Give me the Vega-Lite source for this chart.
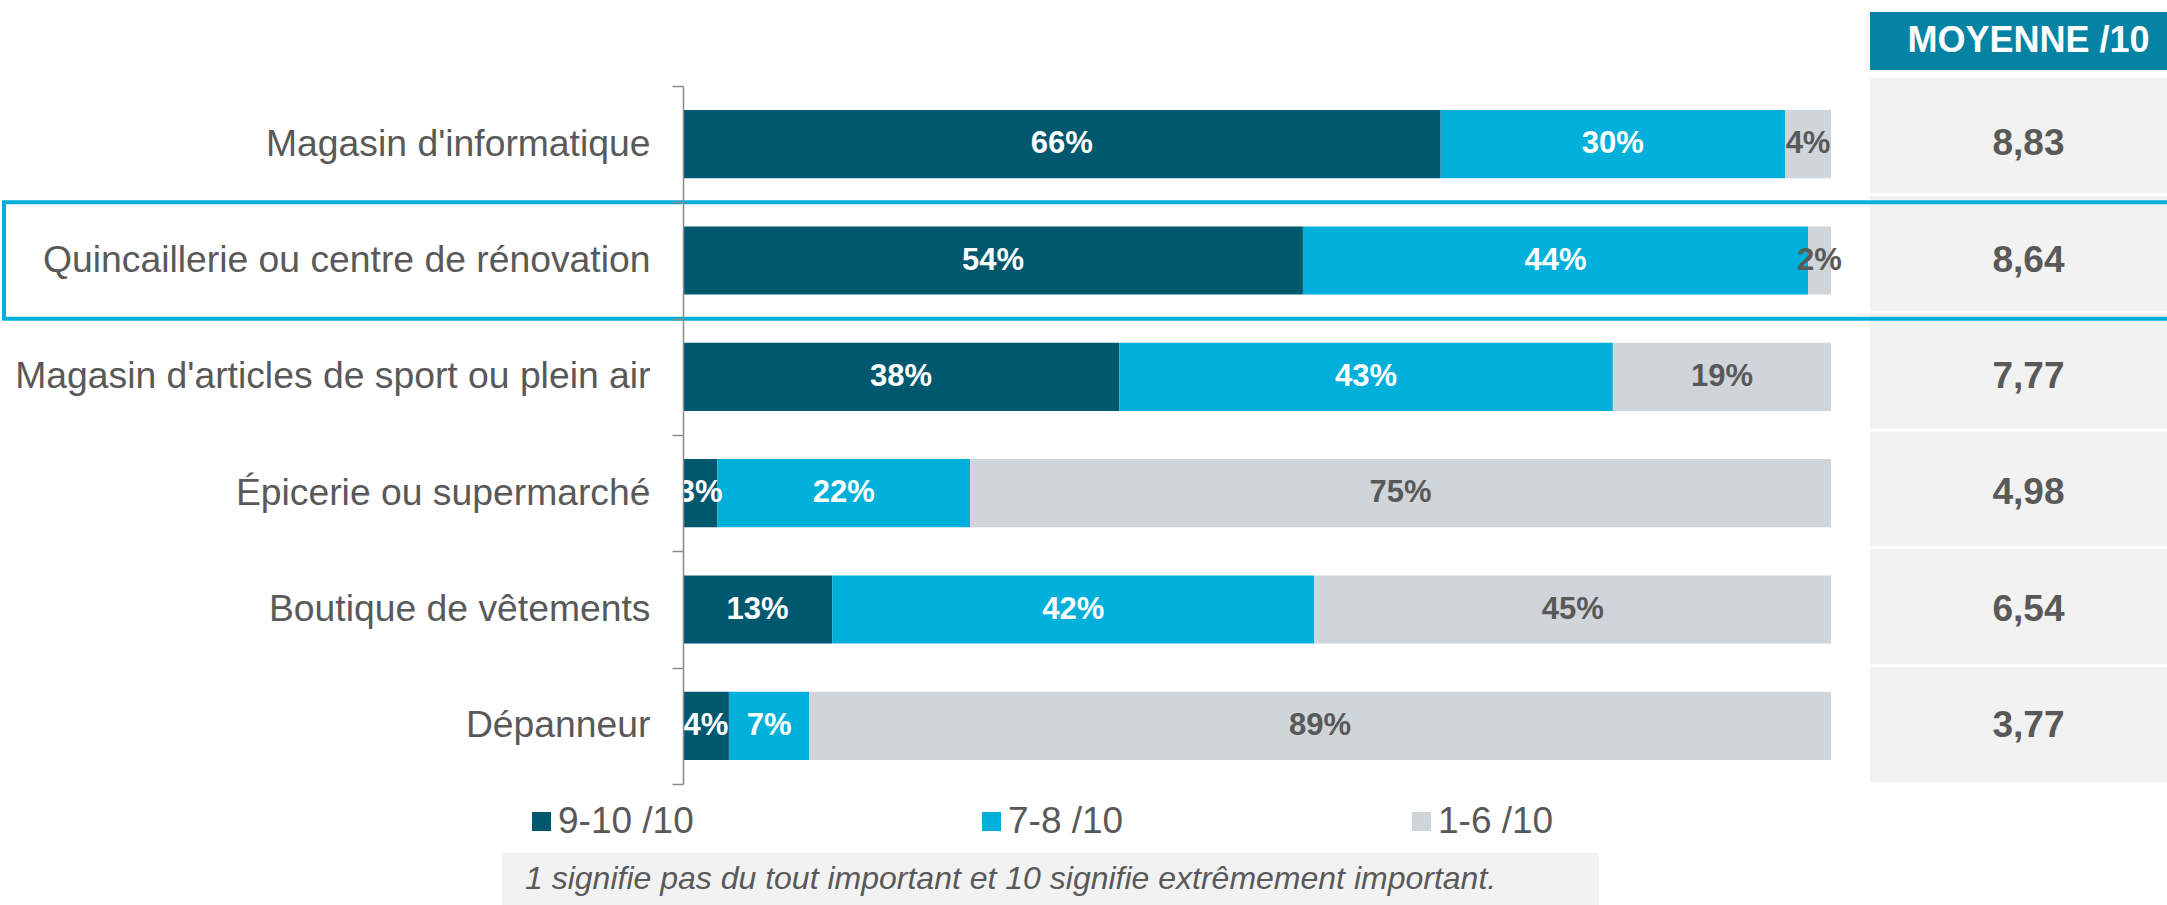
{
  "$schema": "https://vega.github.io/schema/vega-lite/v6.json",
  "autosize": "none",
  "width": 1484,
  "height": 905,
  "padding": {"left": 683, "top": 0, "right": 0, "bottom": 0},
  "background": "white",
  "config": {
    "view": {"stroke": null},
    "font": "Liberation Sans",
    "locale": {"number": {"decimal": ",", "thousands": " ", "grouping": [3], "currency": ["", " $"]}}
  },
  "datasets": {
    "bars": [
      {"cat": "Magasin d'informatique", "seg": "9-10 /10", "ord": 1, "pct": 66},
      {"cat": "Magasin d'informatique", "seg": "7-8 /10", "ord": 2, "pct": 30},
      {"cat": "Magasin d'informatique", "seg": "1-6 /10", "ord": 3, "pct": 4},
      {"cat": "Quincaillerie ou centre de rénovation", "seg": "9-10 /10", "ord": 1, "pct": 54},
      {"cat": "Quincaillerie ou centre de rénovation", "seg": "7-8 /10", "ord": 2, "pct": 44},
      {"cat": "Quincaillerie ou centre de rénovation", "seg": "1-6 /10", "ord": 3, "pct": 2},
      {"cat": "Magasin d'articles de sport ou plein air", "seg": "9-10 /10", "ord": 1, "pct": 38},
      {"cat": "Magasin d'articles de sport ou plein air", "seg": "7-8 /10", "ord": 2, "pct": 43},
      {"cat": "Magasin d'articles de sport ou plein air", "seg": "1-6 /10", "ord": 3, "pct": 19},
      {"cat": "Épicerie ou supermarché", "seg": "9-10 /10", "ord": 1, "pct": 3},
      {"cat": "Épicerie ou supermarché", "seg": "7-8 /10", "ord": 2, "pct": 22},
      {"cat": "Épicerie ou supermarché", "seg": "1-6 /10", "ord": 3, "pct": 75},
      {"cat": "Boutique de vêtements", "seg": "9-10 /10", "ord": 1, "pct": 13},
      {"cat": "Boutique de vêtements", "seg": "7-8 /10", "ord": 2, "pct": 42},
      {"cat": "Boutique de vêtements", "seg": "1-6 /10", "ord": 3, "pct": 45},
      {"cat": "Dépanneur", "seg": "9-10 /10", "ord": 1, "pct": 4},
      {"cat": "Dépanneur", "seg": "7-8 /10", "ord": 2, "pct": 7},
      {"cat": "Dépanneur", "seg": "1-6 /10", "ord": 3, "pct": 89}
    ],
    "moyennes": [
      {"cat": "Magasin d'informatique", "moyenne": 8.83},
      {"cat": "Quincaillerie ou centre de rénovation", "moyenne": 8.64},
      {"cat": "Magasin d'articles de sport ou plein air", "moyenne": 7.77},
      {"cat": "Épicerie ou supermarché", "moyenne": 4.98},
      {"cat": "Boutique de vêtements", "moyenne": 6.54},
      {"cat": "Dépanneur", "moyenne": 3.77}
    ]
  },
  "resolve": {"scale": {"x": "independent", "y": "independent", "color": "independent"}},
  "layer": [
    {
      "data": {"name": "bars"},
      "encoding": {
        "y": {
          "field": "cat", "type": "nominal", "sort": null,
          "scale": {
            "domain": ["Magasin d'informatique", "Quincaillerie ou centre de rénovation", "Magasin d'articles de sport ou plein air", "Épicerie ou supermarché", "Boutique de vêtements", "Dépanneur"],
            "range": [86, 784], "paddingInner": 0.414, "paddingOuter": 0.207
          },
          "axis": null
        },
        "x": {"field": "pct", "type": "quantitative", "stack": "zero", "scale": {"domain": [0, 100], "range": [0, 1148], "nice": false}, "axis": null},
        "order": {"field": "ord", "type": "quantitative"}
      },
      "layer": [
        {
          "mark": {"type": "bar"},
          "encoding": {
            "color": {
              "field": "seg", "type": "nominal", "sort": null,
              "scale": {"domain": ["9-10 /10", "7-8 /10", "1-6 /10"], "range": ["#00586F", "#00B0DB", "#D0D5D9"]},
              "legend": {
                "title": null, "orient": "none", "legendX": -160, "legendY": 803, "direction": "horizontal",
                "columns": 3, "gridAlign": "none", "columnPadding": 279, "symbolType": "square", "symbolSize": 361,
                "symbolStrokeWidth": 0, "labelFontSize": 37, "labelColor": "#595959", "labelOffset": -2, "padding": 0,
                "labelLimit": 0, "labelFont": "Liberation Sans"
              }
            }
          }
        },
        {
          "mark": {"type": "text", "fontSize": 31, "fontWeight": "bold", "clip": true, "text": {"expr": "datum.pct + '%'"}},
          "encoding": {
            "x": {"field": "pct", "type": "quantitative", "stack": "zero", "bandPosition": 0.5},
            "detail": {"field": "seg", "type": "nominal"},
            "color": {"condition": {"test": "datum.seg === '1-6 /10'", "value": "#595959"}, "value": "white"}
          }
        }
      ]
    },
    {
      "data": {"name": "moyennes"},
      "mark": {"type": "rect", "fill": "#F2F2F2"},
      "encoding": {
        "y": {
          "field": "cat", "type": "nominal", "sort": null,
          "scale": {
            "domain": ["Magasin d'informatique", "Quincaillerie ou centre de rénovation", "Magasin d'articles de sport ou plein air", "Épicerie ou supermarché", "Boutique de vêtements", "Dépanneur"],
            "range": [78, 782], "paddingInner": 0.025, "paddingOuter": 0
          },
          "axis": null
        },
        "x": {"datum": "MOYENNE /10", "type": "nominal", "scale": {"range": [1187, 1504], "paddingInner": 0, "paddingOuter": 0}, "axis": null}
      }
    },
    {
      "data": {"name": "moyennes"},
      "mark": {"type": "text", "fontSize": 37, "fontWeight": "bold", "color": "#595959"},
      "encoding": {
        "y": {
          "field": "cat", "type": "nominal", "sort": null,
          "scale": {
            "domain": ["Magasin d'informatique", "Quincaillerie ou centre de rénovation", "Magasin d'articles de sport ou plein air", "Épicerie ou supermarché", "Boutique de vêtements", "Dépanneur"],
            "range": [86, 784], "paddingInner": 0, "paddingOuter": 0
          },
          "axis": null
        },
        "x": {"datum": "MOYENNE /10", "type": "nominal", "scale": {"range": [1187, 1504], "paddingInner": 0, "paddingOuter": 0}, "axis": null},
        "text": {"field": "moyenne", "type": "quantitative", "format": ".2f"}
      }
    },
    {
      "data": {"values": [{"header": "MOYENNE /10"}]},
      "encoding": {
        "y": {"field": "header", "type": "nominal", "scale": {"range": [12, 70], "paddingInner": 0, "paddingOuter": 0}, "axis": null},
        "x": {"field": "header", "type": "nominal", "scale": {"range": [1187, 1504], "paddingInner": 0, "paddingOuter": 0}, "axis": null}
      },
      "layer": [
        {"mark": {"type": "rect", "fill": "#0583A5"}},
        {
          "mark": {"type": "text", "fontSize": 36, "fontWeight": "bold", "color": "white"},
          "encoding": {"text": {"field": "header"}}
        }
      ]
    },
    {
      "data": {"values": [{"note": "1 signifie pas du tout important et 10 signifie extrêmement important."}]},
      "encoding": {
        "y": {"field": "note", "type": "nominal", "scale": {"range": [853, 905], "paddingInner": 0, "paddingOuter": 0}, "axis": null},
        "x": {"field": "note", "type": "nominal", "scale": {"range": [-181, 916], "paddingInner": 0, "paddingOuter": 0}, "axis": null}
      },
      "layer": [
        {"mark": {"type": "rect", "fill": "#F2F2F2"}},
        {
          "mark": {"type": "text", "fontSize": 32, "fontStyle": "italic", "color": "#595959", "align": "left", "dx": 23},
          "encoding": {
            "x": {"field": "note", "type": "nominal", "bandPosition": 0},
            "text": {"field": "note"}
          }
        }
      ]
    },
    {
      "data": {"values": [{"cat": "Quincaillerie ou centre de rénovation"}]},
      "mark": {"type": "rect", "fill": "transparent", "stroke": "#00B0DB", "strokeWidth": 4, "clip": false},
      "encoding": {
        "y": {
          "field": "cat", "type": "nominal",
          "scale": {
            "domain": ["Magasin d'informatique", "Quincaillerie ou centre de rénovation", "Magasin d'articles de sport ou plein air", "Épicerie ou supermarché", "Boutique de vêtements", "Dépanneur"],
            "range": [86, 784], "paddingInner": 0, "paddingOuter": 0
          },
          "axis": {
            "title": null, "domainColor": "#8a8a8a", "domainWidth": 1.5, "tickColor": "#8a8a8a", "tickWidth": 1.5,
            "tickSize": 11, "tickBand": "extent", "labelFontSize": 37.3, "labelColor": "#595959", "labelPadding": 22,
            "labelLimit": 0, "labelFont": "Liberation Sans"
          }
        },
        "x": {"datum": "box", "type": "nominal", "scale": {"range": [-679, 1520], "paddingInner": 0, "paddingOuter": 0}, "axis": null}
      }
    }
  ]
}
